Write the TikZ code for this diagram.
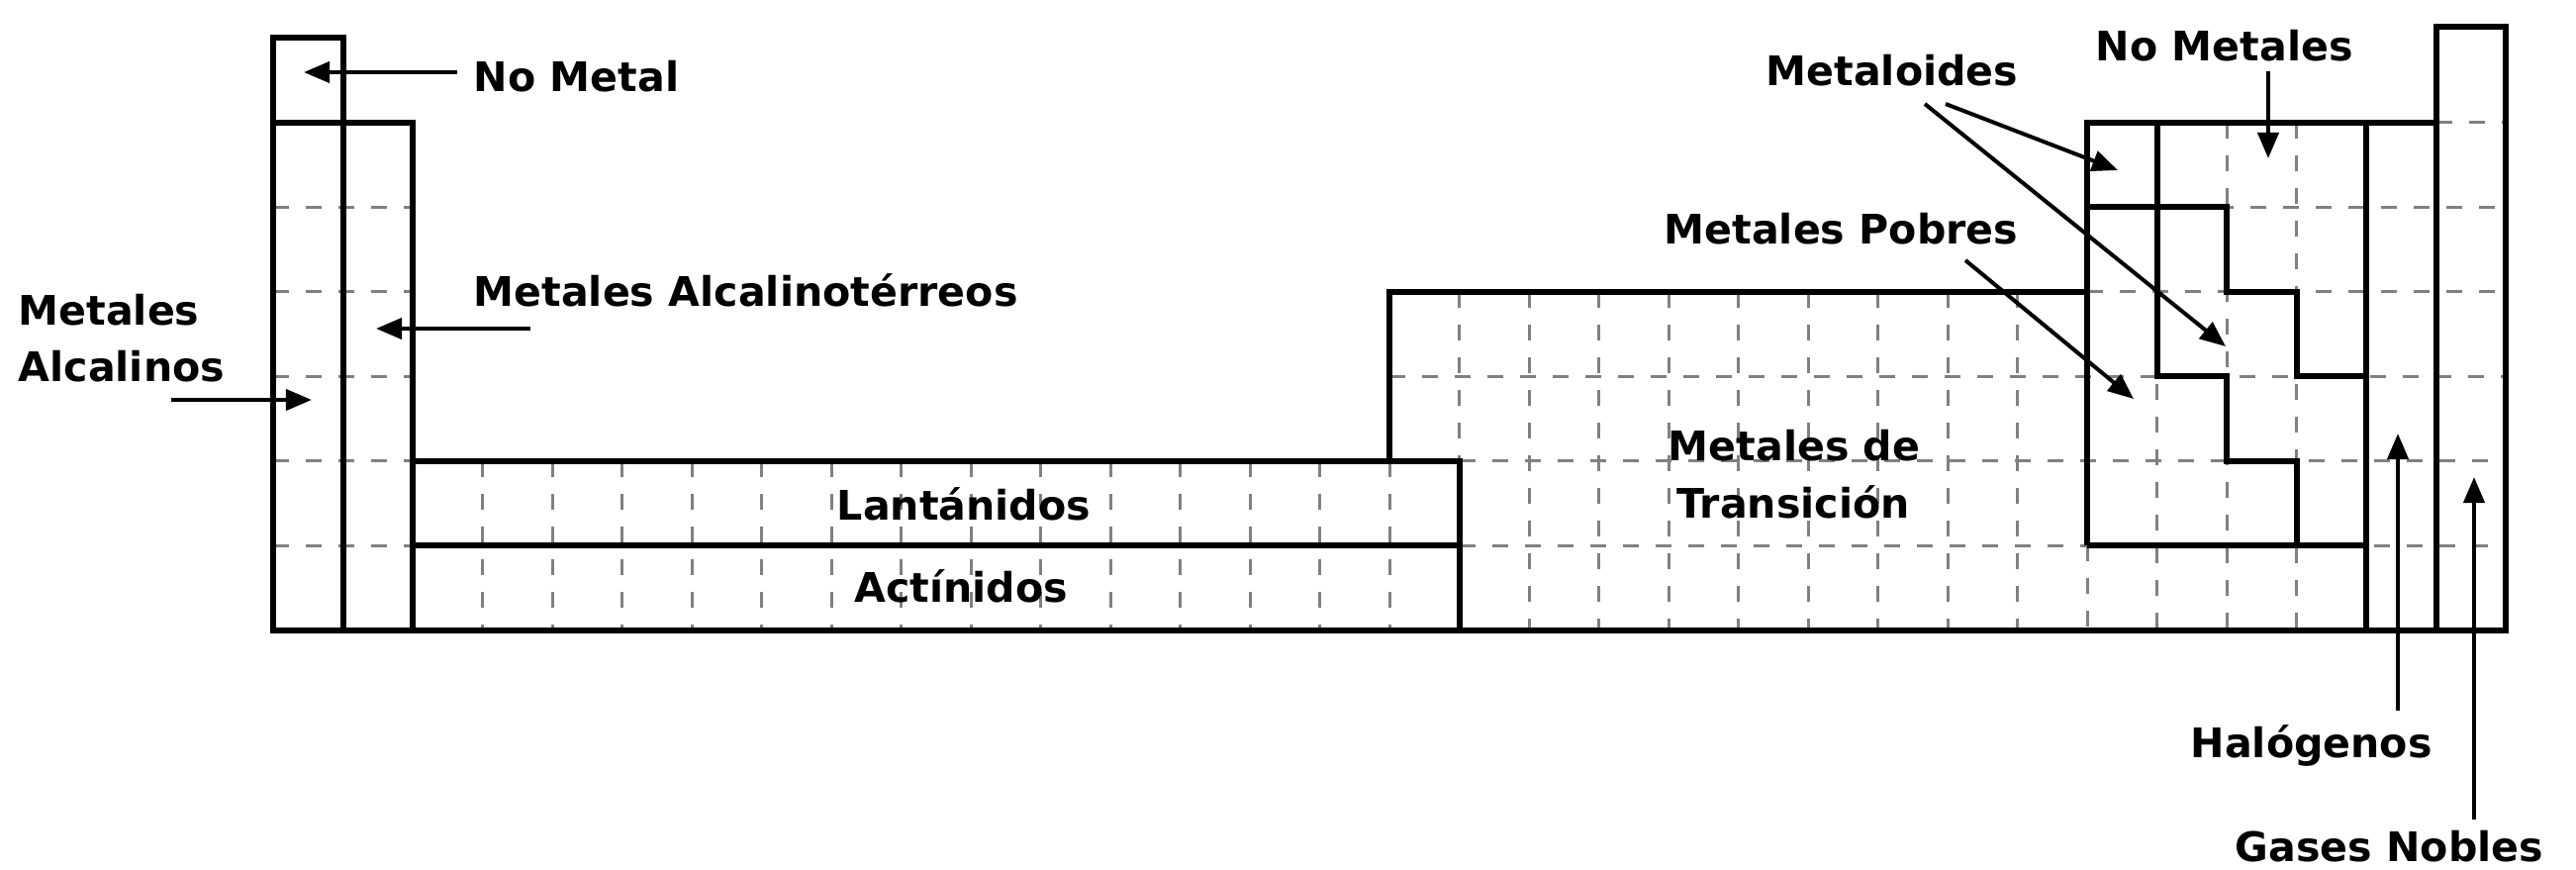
\documentclass[tikz,border=0pt]{standalone}
\usepackage{fontspec}
\setmainfont{DejaVu Sans}
\usetikzlibrary{arrows.meta}
\tikzset{
  grid dash/.style={line width=0.03cm, black!50, dash pattern=on 0.16cm off 0.17cm},
  solid box/.style={line width=0.06cm, black, line join=miter},
  arr/.style={line width=0.04cm, black, -{Triangle[length=0.26cm,width=0.21cm]}},
  lab/.style={inner sep=0pt, font=\bfseries\fontsize{11.7pt}{16pt}\selectfont}
}
\begin{document}
\begin{tikzpicture}[x=0.01cm,y=-0.01cm]
\useasboundingbox (0,0) rectangle (2603,879);
% grid points
\foreach \i in {0,...,32}{
  \foreach \j in {0,...,7}{
    \coordinate (g\i-\j) at ({276+70.5*\i},{38+85.57*\j});
  }
}
\coordinate (ngtop) at ({276+70.5*31},27);
% dashed grid
\begin{scope}[grid dash, yshift=0.04cm]
  \foreach \j in {2,...,6} \draw (g0-\j) -- (g2-\j);
  \foreach \j in {2,3} \draw (g26-\j) -- (g32-\j);
  \draw (g16-4) -- (g32-4);
  \foreach \j in {5,6} \draw (g17-\j) -- (g32-\j);
  \draw (g31-1) -- (g32-1);
\end{scope}
\begin{scope}[grid dash]
  \foreach \i in {3,...,16} \draw (g\i-5) -- (g\i-7);
  \foreach \i in {17,...,25} \draw (g\i-3) -- (g\i-7);
  \draw (g26-6) -- (g26-7);
  \foreach \i in {27,28,29} \draw (g\i-1) -- (g\i-7);
\end{scope}
% solid outlines
\begin{scope}[solid box]
  \draw (g0-0) rectangle (g1-1);
  \draw (g0-1) rectangle (g1-7);
  \draw (g1-1) rectangle (g2-7);
  \draw (g2-5) rectangle (g17-6);
  \draw (g2-6) rectangle (g17-7);
  \draw (g16-5) -- (g16-3) -- (g26-3);
  \draw (g17-7) -- (g31-7);
  \draw (g26-6) -- (g26-1) -- (g31-1);
  \draw (g30-1) -- (g30-7);
  \draw (g26-6) -- (g30-6);
  \draw (ngtop) rectangle (g32-7);
  \draw (g26-2) -- (g28-2) -- (g28-3) -- (g29-3) -- (g29-4) -- (g30-4);
  \draw (g27-1) -- (g27-4) -- (g28-4) -- (g28-5) -- (g29-5) -- (g29-6);
\end{scope}
% labels
\node[lab, anchor=base west] (nometal) at (478,93) {No Metal};
\node[lab, anchor=base west] (alkea) at (478,310) {Metales Alcalinotérreos};
\node[lab, anchor=base west] (alk1) at (18,328) {Metales};
\node[lab, anchor=base west] (alk2) at (18,385) {Alcalinos};
\node[lab, anchor=base] (lan) at (974,525) {Lantánidos};
\node[lab, anchor=base] (act) at (971,608) {Actínidos};
\node[lab, anchor=base] (tr1) at (1813,465) {Metales de};
\node[lab, anchor=base] (tr2) at (1812,523) {Transición};
\node[lab, anchor=base east] (metaloid) at (2040,87) {Metaloides};
\node[lab, anchor=base west] (nometales) at (2117,62) {No Metales};
\node[lab, anchor=base east] (pobres) at (2040,247) {Metales Pobres};
\node[lab, anchor=base west] (halo) at (2213,765) {Halógenos};
\node[lab, anchor=base west] (gases) at (2258,870) {Gases Nobles};
% arrow ends
\coordinate (a1s) at (462,73);  \coordinate (a1t) at (307,73);
\coordinate (a2s) at (536,332); \coordinate (a2t) at (380,332);
\coordinate (a3s) at (173,404); \coordinate (a3t) at (315,404);
\coordinate (a4s) at (1966,105); \coordinate (a4t) at (2140,172);
\coordinate (a5s) at (1945,105); \coordinate (a5t) at (2249,350);
\coordinate (a6s) at (1986,263); \coordinate (a6t) at (2156,403);
\coordinate (a7s) at (2292,72); \coordinate (a7t) at (2292,160);
\coordinate (a8s) at (2423,718); \coordinate (a8t) at (2423,438);
\coordinate (a9s) at (2500,828); \coordinate (a9t) at (2500,482);
\foreach \k in {1,...,9} \draw[arr] (a\k s) -- (a\k t);
\end{tikzpicture}
\end{document}
